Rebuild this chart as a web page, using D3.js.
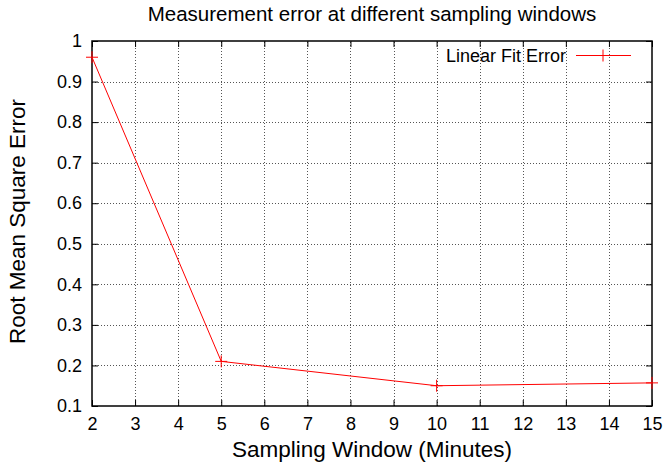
<!DOCTYPE html>
<html>
<head>
<meta charset="utf-8">
<script src="https://cdn.jsdelivr.net/npm/d3@7"></script>
<style>
  body { margin: 0; background: #fff; }
  svg { font-family: "Liberation Sans", Arial, sans-serif; }
</style>
</head>
<body>
<div id="chart"></div>
<script>
// Chart data
const windows = [2, 5, 10, 15];
const rmse = [0.96, 0.21, 0.15, 0.157];
const xTicks = [2, 3, 4, 5, 6, 7, 8, 9, 10, 11, 12, 13, 14, 15];
const yTicks = [0.1, 0.2, 0.3, 0.4, 0.5, 0.6, 0.7, 0.8, 0.9, 1];
const seriesName = "Linear Fit Error";

const width = 664, height = 466;
const margin = { top: 41, right: 12, bottom: 60, left: 92 };

const svg = d3.select("#chart").append("svg")
    .attr("width", width)
    .attr("height", height);

const x = d3.scaleLinear().domain([2, 15]).range([margin.left, width - margin.right]);
const y = d3.scaleLinear().domain([0.1, 1]).range([height - margin.bottom, margin.top]);

// Grid
const grid = svg.append("g").attr("stroke", "#555").attr("stroke-width", 1).attr("stroke-dasharray", "1,2");
grid.selectAll("line.vx")
    .data(xTicks.slice(1, -1))
    .join("line")
    .attr("x1", d => Math.round(x(d)) + 0.5).attr("x2", d => Math.round(x(d)) + 0.5)
    .attr("y1", y(0.1)).attr("y2", y(1));
grid.selectAll("line.hy")
    .data(yTicks.slice(1, -1))
    .join("line")
    .attr("y1", d => Math.round(y(d)) + 0.5).attr("y2", d => Math.round(y(d)) + 0.5)
    .attr("x1", x(2)).attr("x2", x(15));

// Axes with inward ticks, mirrored
const fmt = d => d3.format("~g")(d);
svg.append("g")
    .attr("transform", `translate(0,${y(0.1)})`)
    .call(d3.axisBottom(x).tickValues(xTicks).tickSize(-6).tickPadding(11).tickFormat(fmt))
    .call(g => g.select(".domain").remove());
svg.append("g")
    .attr("transform", `translate(0,${y(1)})`)
    .call(d3.axisTop(x).tickValues(xTicks).tickSize(-6).tickFormat(""))
    .call(g => g.select(".domain").remove());
svg.append("g")
    .attr("transform", `translate(${x(2)},0)`)
    .call(d3.axisLeft(y).tickValues(yTicks).tickSize(-6).tickPadding(10).tickFormat(fmt))
    .call(g => g.select(".domain").remove());
svg.append("g")
    .attr("transform", `translate(${x(15)},0)`)
    .call(d3.axisRight(y).tickValues(yTicks).tickSize(-6).tickFormat(""))
    .call(g => g.select(".domain").remove());

svg.selectAll(".tick text").attr("font-size", 18).attr("fill", "#000")
    .attr("font-family", "Liberation Sans, Arial, sans-serif");
svg.selectAll(".tick line").attr("stroke", "#000");

// Border
svg.append("rect")
    .attr("x", x(2)).attr("y", y(1))
    .attr("width", x(15) - x(2)).attr("height", y(0.1) - y(1))
    .attr("fill", "none").attr("stroke", "#000").attr("stroke-width", 1.5);

// Series
const pts = windows.map((w, i) => [w, rmse[i]]);
svg.append("path")
    .datum(pts)
    .attr("fill", "none")
    .attr("stroke", "#ff0000")
    .attr("stroke-width", 1)
    .attr("d", d3.line().x(d => x(d[0])).y(d => y(d[1])));

const cross = (g, cx, cy) => {
    g.append("line").attr("x1", cx - 6).attr("x2", cx + 6).attr("y1", cy).attr("y2", cy);
    g.append("line").attr("x1", cx).attr("x2", cx).attr("y1", cy - 6).attr("y2", cy + 6);
};
const marks = svg.append("g").attr("stroke", "#ff0000").attr("stroke-width", 1);
pts.forEach(d => cross(marks, x(d[0]), y(d[1])));

// Legend
const lg = svg.append("g");
lg.append("text")
    .attr("x", 566).attr("y", 62)
    .attr("text-anchor", "end")
    .attr("font-size", 18)
    .text(seriesName);
lg.append("line")
    .attr("x1", 576).attr("x2", 631).attr("y1", 55.5).attr("y2", 55.5)
    .attr("stroke", "#ff0000");
cross(lg.append("g").attr("stroke", "#ff0000"), 603, 55.5);

// Title and axis labels
svg.append("text")
    .attr("x", 372).attr("y", 21)
    .attr("text-anchor", "middle")
    .attr("font-size", 20.5)
    .text("Measurement error at different sampling windows");

svg.append("text")
    .attr("x", (x(2) + x(15)) / 2).attr("y", 457)
    .attr("text-anchor", "middle")
    .attr("font-size", 22.5)
    .text("Sampling Window (Minutes)");

svg.append("text")
    .attr("transform", `translate(25,${(y(0.1) + y(1)) / 2 - 2}) rotate(-90)`)
    .attr("text-anchor", "middle")
    .attr("font-size", 22.5)
    .text("Root Mean Square Error");
</script>
</body>
</html>
